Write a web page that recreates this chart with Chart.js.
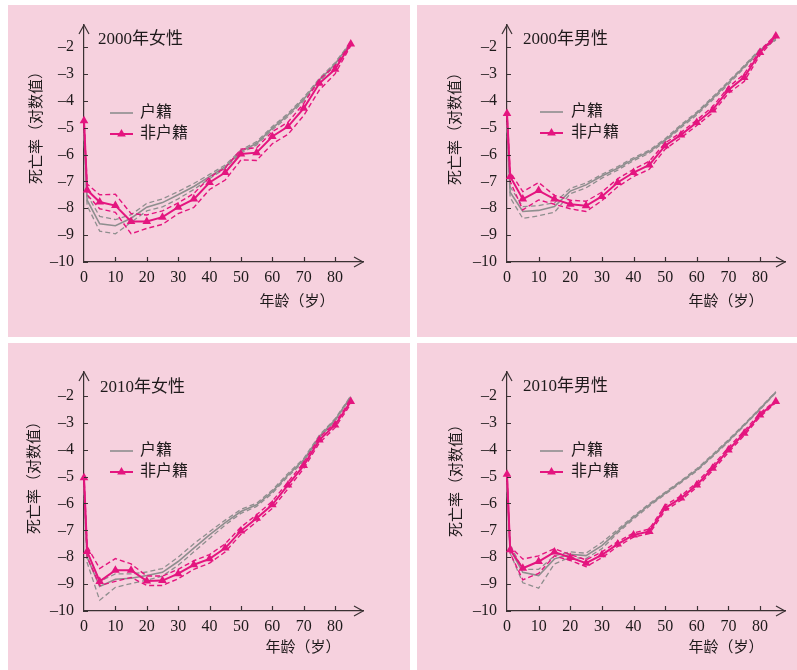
<!DOCTYPE html>
<html>
<head>
<meta charset="utf-8">
<script src="https://cdn.jsdelivr.net/npm/chart.js@4.4.1/dist/chart.umd.min.js"></script>
<style>
  html, body { margin: 0; padding: 0; background: #fff; }
  body { width: 797px; height: 670px; position: relative; overflow: hidden; }
  .panel { position: absolute; background: #f6d1de; }
  .panel canvas { display: block; }
</style>
</head>
<body>
<div class="panel" style="left:8px;top:5px;width:402px;height:332px"><canvas id="c1" width="402" height="332"></canvas></div>
<div class="panel" style="left:417px;top:5px;width:380px;height:332px"><canvas id="c2" width="380" height="332"></canvas></div>
<div class="panel" style="left:8px;top:343px;width:402px;height:327px"><canvas id="c3" width="402" height="327"></canvas></div>
<div class="panel" style="left:417px;top:343px;width:380px;height:327px"><canvas id="c4" width="380" height="327"></canvas></div>

<script>
// ages (x) and axis ticks
const ages = [0, 1, 5, 10, 15, 20, 25, 30, 35, 40, 45, 50, 55, 60, 65, 70, 75, 80, 85];
const xTicks = [0, 10, 20, 30, 40, 50, 60, 70, 80];
const yTicks = [-10, -9, -8, -7, -6, -5, -4, -3, -2];

// 2000 female
const f00Mig   = [-4.74, -7.32, -7.77, -7.90, -8.49, -8.49, -8.33, -7.96, -7.66, -7.04, -6.67, -5.98, -5.93, -5.33, -4.96, -4.28, -3.35, -2.83, -1.89];
const f00MigHi = [-4.65, -7.10, -7.50, -7.48, -8.20, -8.25, -8.10, -7.80, -7.45, -6.85, -6.50, -5.80, -5.75, -5.15, -4.80, -4.10, -3.20, -2.70, -1.85];
const f00MigLo = [-4.85, -7.50, -8.02, -8.15, -8.95, -8.75, -8.60, -8.20, -7.97, -7.30, -6.95, -6.20, -6.22, -5.60, -5.25, -4.55, -3.60, -3.00, -1.95];
const f00Huk   = [-5.20, -7.70, -8.58, -8.65, -8.37, -7.96, -7.79, -7.50, -7.19, -6.82, -6.45, -5.89, -5.58, -5.02, -4.53, -3.94, -3.23, -2.63, -1.84];
const f00HukHi = [-5.10, -7.50, -8.30, -8.42, -8.24, -7.82, -7.65, -7.38, -7.08, -6.74, -6.39, -5.83, -5.52, -4.96, -4.47, -3.88, -3.17, -2.58, -1.81];
const f00HukLo = [-5.30, -7.90, -8.85, -8.95, -8.52, -8.10, -7.95, -7.65, -7.30, -6.90, -6.51, -5.95, -5.64, -5.08, -4.59, -4.00, -3.29, -2.68, -1.87];

// 2000 male
const m00Mig   = [-4.47, -6.82, -7.66, -7.34, -7.66, -7.85, -7.91, -7.56, -7.04, -6.67, -6.39, -5.67, -5.27, -4.81, -4.34, -3.60, -3.13, -2.20, -1.59];
const m00MigHi = [-4.40, -6.65, -7.38, -7.04, -7.52, -7.70, -7.74, -7.40, -6.90, -6.55, -6.25, -5.57, -5.18, -4.72, -4.22, -3.50, -3.00, -2.12, -1.55];
const m00MigLo = [-4.55, -7.00, -8.06, -7.69, -7.85, -8.02, -8.12, -7.72, -7.20, -6.82, -6.55, -5.80, -5.38, -4.92, -4.45, -3.72, -3.28, -2.30, -1.65];
const m00Huk   = [-4.90, -7.40, -8.12, -8.08, -7.94, -7.36, -7.13, -6.80, -6.51, -6.17, -5.89, -5.46, -4.94, -4.47, -3.91, -3.33, -2.73, -2.11, -1.71];
const m00HukHi = [-4.80, -7.20, -7.94, -7.90, -7.80, -7.26, -7.06, -6.74, -6.45, -6.12, -5.84, -5.41, -4.89, -4.42, -3.86, -3.28, -2.69, -2.07, -1.68];
const m00HukLo = [-5.00, -7.60, -8.38, -8.28, -8.15, -7.46, -7.24, -6.88, -6.58, -6.23, -5.95, -5.52, -5.00, -4.53, -3.97, -3.39, -2.78, -2.15, -1.74];

// 2010 female
const f10Mig   = [-5.04, -7.79, -8.90, -8.48, -8.48, -8.88, -8.87, -8.61, -8.28, -8.06, -7.66, -7.02, -6.55, -6.05, -5.31, -4.59, -3.64, -3.08, -2.21];
const f10MigHi = [-4.95, -7.60, -8.42, -8.05, -8.25, -8.70, -8.70, -8.45, -8.13, -7.90, -7.50, -6.88, -6.42, -5.92, -5.20, -4.48, -3.55, -3.00, -2.15];
const f10MigLo = [-5.15, -8.00, -9.05, -8.90, -8.75, -9.05, -9.05, -8.80, -8.45, -8.22, -7.80, -7.15, -6.68, -6.18, -5.45, -4.70, -3.75, -3.18, -2.30];
const f10Huk   = [-5.40, -8.00, -9.09, -8.82, -8.78, -8.68, -8.56, -8.16, -7.66, -7.17, -6.71, -6.30, -6.05, -5.56, -4.94, -4.38, -3.51, -2.89, -2.03];
const f10HukHi = [-5.30, -7.80, -8.90, -8.62, -8.62, -8.55, -8.42, -8.00, -7.50, -7.05, -6.62, -6.22, -5.99, -5.50, -4.88, -4.33, -3.46, -2.85, -2.00];
const f10HukLo = [-5.50, -8.20, -9.60, -9.12, -8.98, -8.85, -8.70, -8.30, -7.80, -7.30, -6.80, -6.37, -6.11, -5.62, -5.00, -4.43, -3.56, -2.93, -2.06];

// 2010 male
const m10Mig   = [-4.91, -7.72, -8.41, -8.16, -7.81, -8.01, -8.22, -7.91, -7.51, -7.17, -7.04, -6.17, -5.80, -5.31, -4.69, -4.01, -3.39, -2.71, -2.21];
const m10MigHi = [-4.85, -7.60, -8.07, -7.95, -7.68, -7.90, -8.10, -7.80, -7.42, -7.10, -6.95, -6.07, -5.72, -5.22, -4.60, -3.92, -3.30, -2.64, -2.17];
const m10MigLo = [-5.00, -7.85, -8.84, -8.60, -7.95, -8.12, -8.35, -8.02, -7.60, -7.25, -7.12, -6.27, -5.88, -5.40, -4.78, -4.10, -3.47, -2.78, -2.25];
const m10Huk   = [-5.30, -7.70, -8.56, -8.68, -8.06, -7.89, -7.94, -7.57, -7.04, -6.52, -6.05, -5.62, -5.19, -4.75, -4.22, -3.67, -3.08, -2.48, -1.86];
const m10HukHi = [-5.20, -7.55, -8.45, -8.45, -7.95, -7.80, -7.85, -7.45, -6.97, -6.47, -6.01, -5.58, -5.15, -4.71, -4.18, -3.63, -3.05, -2.45, -1.84];
const m10HukLo = [-5.40, -7.85, -8.95, -9.15, -8.25, -8.00, -8.05, -7.68, -7.10, -6.58, -6.10, -5.66, -5.23, -4.79, -4.26, -3.71, -3.11, -2.51, -1.88];

const MAG = '#e4157f';
const GRAY = '#8e8e8e';
const AXIS = '#3a3133';
const TEXT = '#1e1a1b';
const FONT = '"Liberation Serif", "Noto Sans CJK SC", serif';
const yTitle = '死亡率（对数值）';
const xTitle = '年龄（岁）';

// inward ticks, arrow heads, panel title, legend, axis titles
const decor = {
  id: 'decor',
  afterDraw(chart, args, o) {
    const ctx = chart.ctx;
    const a = chart.chartArea;
    const xs = chart.scales.x, ys = chart.scales.y;
    ctx.save();
    ctx.strokeStyle = AXIS;
    ctx.lineWidth = 1.2;
    ctx.beginPath();
    yTicks.forEach(v => {
      const py = Math.round(ys.getPixelForValue(v)) + 0.5;
      ctx.moveTo(a.left, py); ctx.lineTo(a.left + 4, py);
    });
    xTicks.forEach(v => {
      if (v === 0) return;
      const px = Math.round(xs.getPixelForValue(v)) + 0.5;
      ctx.moveTo(px, a.bottom); ctx.lineTo(px, a.bottom - 5);
    });
    // arrows
    ctx.moveTo(a.left - 5, a.top + 9); ctx.lineTo(a.left, a.top); ctx.lineTo(a.left + 5, a.top + 9);
    ctx.moveTo(a.right - 9, a.bottom - 5); ctx.lineTo(a.right, a.bottom); ctx.lineTo(a.right - 9, a.bottom + 5);
    ctx.stroke();

    ctx.fillStyle = TEXT;
    ctx.textBaseline = 'middle';
    ctx.textAlign = 'left';
    ctx.font = '17px ' + FONT;
    ctx.fillText(o.title, o.titleX, o.titleY);

    // legend
    const ds = chart.data.datasets;
    const hukou = ds.find(d => d.label === '户籍');
    const mig = ds.find(d => d.label === '非户籍');
    ctx.font = '16px ' + FONT;
    ctx.lineWidth = 1.6;
    ctx.strokeStyle = hukou.borderColor;
    ctx.beginPath(); ctx.moveTo(o.legX1, o.legY1); ctx.lineTo(o.legX2, o.legY1); ctx.stroke();
    ctx.fillText(hukou.label, o.legTextX, o.legY1);
    ctx.lineWidth = 2;
    ctx.strokeStyle = mig.borderColor;
    ctx.beginPath(); ctx.moveTo(o.legX1, o.legY2); ctx.lineTo(o.legX2, o.legY2); ctx.stroke();
    const cx = (o.legX1 + o.legX2) / 2, r = mig.pointRadius;
    ctx.fillStyle = mig.backgroundColor;
    ctx.beginPath();
    ctx.moveTo(cx, o.legY2 - r);
    ctx.lineTo(cx + r * 0.866, o.legY2 + r * 0.5);
    ctx.lineTo(cx - r * 0.866, o.legY2 + r * 0.5);
    ctx.closePath(); ctx.fill();
    ctx.fillStyle = TEXT;
    ctx.fillText(mig.label, o.legTextX, o.legY2);

    // axis titles
    ctx.font = '15px ' + FONT;
    ctx.textAlign = 'center';
    ctx.fillText(xTitle, o.xTitleX, o.xTitleY);
    ctx.translate(o.yTitleX, o.yTitleY);
    ctx.rotate(-Math.PI / 2);
    ctx.fillText(yTitle, 0, 0);
    ctx.restore();
  }
};

function series(vals) {
  return ages.map((a, i) => ({ x: a, y: vals[i] }));
}

function makeChart(id, p) {
  const dash = [5, 3];
  return new Chart(document.getElementById(id), {
    type: 'line',
    data: {
      datasets: [
        { label: '非户籍', data: series(p.mig), borderColor: MAG, backgroundColor: MAG, borderWidth: 2,
          pointStyle: 'triangle', pointRadius: 5, pointBorderWidth: 0, clip: false },
        { label: '非户籍上限', data: series(p.migHi), borderColor: MAG, borderWidth: 1.4, borderDash: dash, pointRadius: 0, clip: false },
        { label: '非户籍下限', data: series(p.migLo), borderColor: MAG, borderWidth: 1.4, borderDash: dash, pointRadius: 0, clip: false },
        { label: '户籍', data: series(p.huk), borderColor: GRAY, borderWidth: 1.6, pointRadius: 0, clip: false },
        { label: '户籍上限', data: series(p.hukHi), borderColor: GRAY, borderWidth: 1.3, borderDash: dash, pointRadius: 0, clip: false },
        { label: '户籍下限', data: series(p.hukLo), borderColor: GRAY, borderWidth: 1.3, borderDash: dash, pointRadius: 0, clip: false }
      ]
    },
    plugins: [decor],
    options: {
      animation: false,
      responsive: false,
      events: [],
      layout: { padding: { top: p.padTop, right: p.padRight, left: 0, bottom: 0 } },
      elements: { line: { tension: 0 } },
      plugins: {
        legend: { display: false },
        tooltip: { enabled: false },
        decor: p.decor
      },
      scales: {
        x: {
          type: 'linear',
          min: 0,
          max: p.xMax,
          afterFit: s => { s.height = p.xAxisH; },
          afterBuildTicks: s => { s.ticks = xTicks.map(v => ({ value: v })); },
          grid: { display: false, drawTicks: false },
          border: { display: true, color: AXIS, width: 1.2 },
          ticks: { color: TEXT, padding: 6, maxRotation: 0, autoSkip: false, font: { family: FONT, size: 16 } }
        },
        y: {
          min: -10,
          max: p.yMax,
          afterFit: s => { s.width = p.axisLeft; },
          afterBuildTicks: s => { s.ticks = yTicks.map(v => ({ value: v })); },
          grid: { display: false, drawTicks: false },
          border: { display: true, color: AXIS, width: 1.2 },
          ticks: {
            color: TEXT, padding: 10, font: { family: FONT, size: 16 },
            callback: v => (v < 0 ? '\u2013' + Math.abs(v) : String(v))
          }
        }
      }
    }
  });
}

makeChart('c1', {
  mig: f00Mig, migHi: f00MigHi, migLo: f00MigLo, huk: f00Huk, hukHi: f00HukHi, hukLo: f00HukLo,
  axisLeft: 76, padTop: 20, padRight: 47, xAxisH: 75, xMax: 88.9, yMax: -1.18,
  decor: { title: '2000年女性', titleX: 90, titleY: 35,
    legX1: 102, legX2: 125, legY1: 108, legY2: 129, legTextX: 132,
    yTitleX: 29, yTitleY: 119, xTitleX: 289, xTitleY: 297 }
});
makeChart('c2', {
  mig: m00Mig, migHi: m00MigHi, migLo: m00MigLo, huk: m00Huk, hukHi: m00HukHi, hukLo: m00HukLo,
  axisLeft: 90, padTop: 20, padRight: 12, xAxisH: 75, xMax: 87.9, yMax: -1.18,
  decor: { title: '2000年男性', titleX: 106, titleY: 35,
    legX1: 123, legX2: 146, legY1: 107, legY2: 128, legTextX: 154,
    yTitleX: 39, yTitleY: 120, xTitleX: 309, xTitleY: 297 }
});
makeChart('c3', {
  mig: f10Mig, migHi: f10MigHi, migLo: f10MigLo, huk: f10Huk, hukHi: f10HukHi, hukLo: f10HukLo,
  axisLeft: 76, padTop: 29, padRight: 47, xAxisH: 59, xMax: 88.9, yMax: -1.11,
  decor: { title: '2010年女性', titleX: 92, titleY: 45,
    legX1: 102, legX2: 125, legY1: 108, legY2: 129, legTextX: 132,
    yTitleX: 27, yTitleY: 131, xTitleX: 295, xTitleY: 305 }
});
makeChart('c4', {
  mig: m10Mig, migHi: m10MigHi, migLo: m10MigLo, huk: m10Huk, hukHi: m10HukHi, hukLo: m10HukLo,
  axisLeft: 90, padTop: 29, padRight: 12, xAxisH: 59, xMax: 87.9, yMax: -1.11,
  decor: { title: '2010年男性', titleX: 106, titleY: 44,
    legX1: 123, legX2: 146, legY1: 108, legY2: 129, legTextX: 154,
    yTitleX: 40, yTitleY: 134, xTitleX: 309, xTitleY: 305 }
});
</script>
</body>
</html>
